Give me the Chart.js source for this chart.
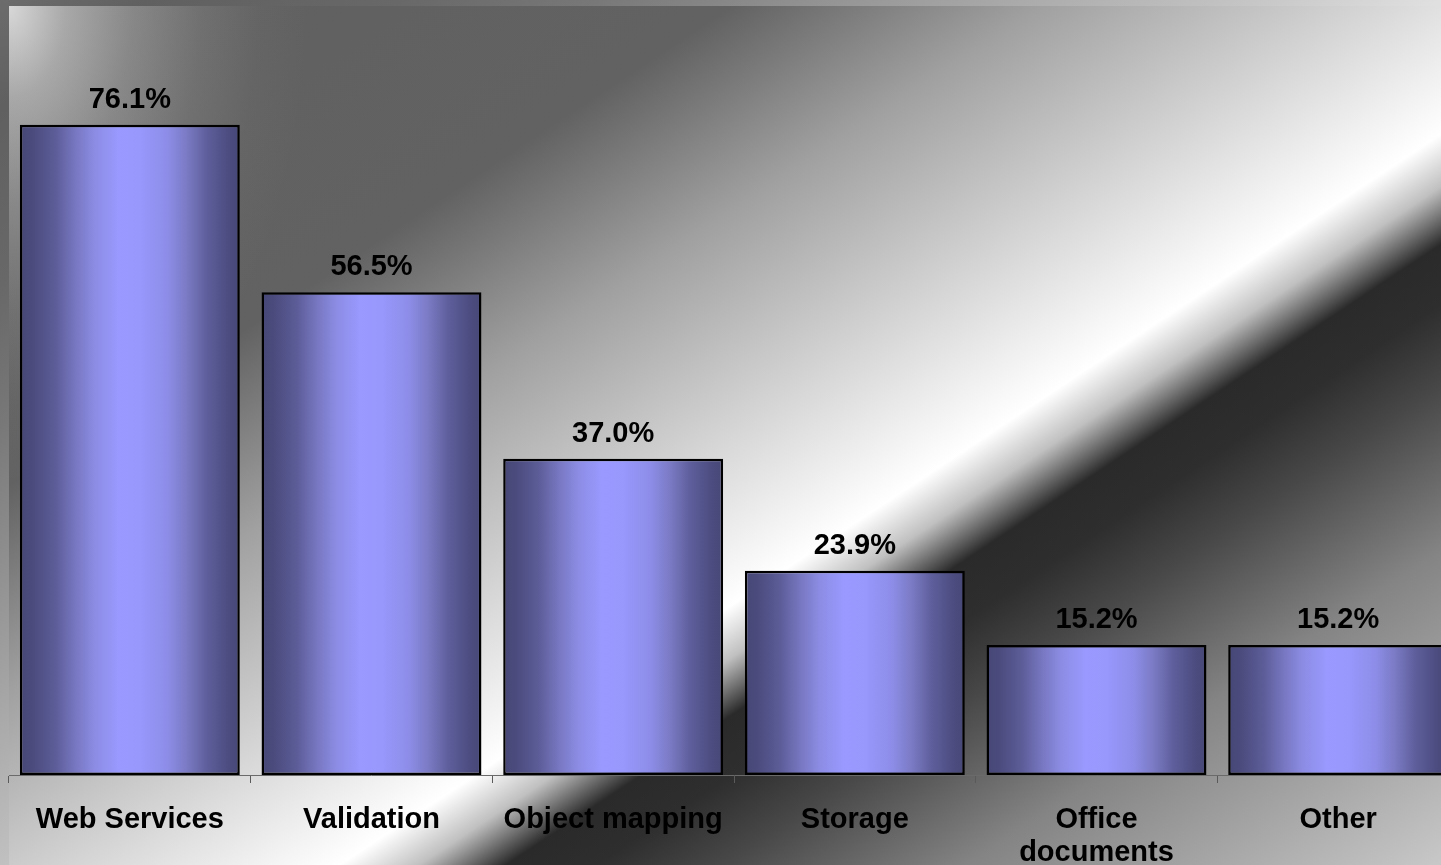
<!DOCTYPE html>
<html>
<head>
<meta charset="utf-8">
<title>Usage</title>
<script src="https://cdn.jsdelivr.net/npm/chart.js@4.4.1/dist/chart.umd.min.js"></script>
<style>
    html, body { margin: 0; padding: 0; overflow: hidden; background: #666666; }
    canvas { display: block; }
</style>
</head>
<body>
<canvas id="usage-chart" width="1500" height="900"></canvas>
<script>
var categories = ['Web Services', 'Validation', 'Object mapping', 'Storage', ['Office', 'documents'], 'Other'];
var percentages = [76.1, 56.5, 37.0, 23.9, 15.2, 15.2];
var axisMin = 0;
var axisMax = 90;

var usage = {};

usage.fontFamily = '"Liberation Sans", Arial, Helvetica, sans-serif';

// horizontal "cylinder" shading of each bar
usage.barFill = function (context) {
    const chart = context.chart;
    const x = chart.scales.x;
    if (!x || !chart.chartArea) {
        return '#9999ff';
    }
    const step = x.getPixelForValue(1) - x.getPixelForValue(0);
    const center = x.getPixelForValue(context.dataIndex);
    const half = step * 0.91 / 2;
    const g = chart.ctx.createLinearGradient(center - half, 0, center + half, 0);
    g.addColorStop(0, '#474776');
    g.addColorStop(0.05, '#4a4a7c');
    g.addColorStop(0.16, '#5c5c98');
    g.addColorStop(0.25, '#7676c0');
    g.addColorStop(0.34, '#8c8ce4');
    g.addColorStop(0.45, '#9999ff');
    g.addColorStop(0.55, '#9797fc');
    g.addColorStop(0.67, '#8d8de8');
    g.addColorStop(0.76, '#7a7ac4');
    g.addColorStop(0.85, '#5e5e9c');
    g.addColorStop(0.95, '#4c4c80');
    g.addColorStop(1, '#474776');
    return g;
};

// metallic backdrop: page behind, plot panel on top
usage.backdrop = {
    id: 'backdrop',
    beforeDraw: function (chart) {
        const ctx = chart.ctx;
        const area = chart.chartArea;
        const w = chart.width;
        const h = chart.height;

        ctx.save();
        const outer = ctx.createLinearGradient(0, 0, 695, 973);
        outer.addColorStop(0, '#6c6c6c');
        outer.addColorStop(0.073, '#606060');
        outer.addColorStop(0.194, '#686868');
        outer.addColorStop(0.29, '#787878');
        outer.addColorStop(0.486, '#a8a8a8');
        outer.addColorStop(0.589, '#c0c0c0');
        outer.addColorStop(0.7, '#e0e0e0');
        outer.addColorStop(1, '#f4f4f4');
        ctx.fillStyle = outer;
        ctx.fillRect(0, 0, w, h);

        const len = 1508;
        const inner = ctx.createLinearGradient(area.left, area.top,
            area.left + 0.553 * len, area.top + 0.833 * len);
        inner.addColorStop(0, '#606060');
        inner.addColorStop(0.265, '#626262');
        inner.addColorStop(0.378, '#a0a0a0');
        inner.addColorStop(0.525, '#e0e0e0');
        inner.addColorStop(0.596, '#ffffff');
        inner.addColorStop(0.625, '#c0c0c0');
        inner.addColorStop(0.657, '#2a2a2a');
        inner.addColorStop(0.69, '#2e2e2e');
        inner.addColorStop(0.736, '#484848');
        inner.addColorStop(0.826, '#848484');
        inner.addColorStop(1, '#c8c8c8');
        ctx.fillStyle = inner;
        ctx.fillRect(area.left, area.top, w - area.left, h - area.top);

        // light sheen in the top-left corner of the panel
        ctx.beginPath();
        ctx.rect(area.left, area.top, w - area.left, h - area.top);
        ctx.clip();
        ctx.translate(area.left, area.top);
        ctx.scale(1, 1.6);
        const sheen = ctx.createRadialGradient(0, 0, 0, 0, 0, 300);
        sheen.addColorStop(0, 'rgba(216,216,216,1)');
        sheen.addColorStop(0.19, 'rgba(216,216,216,0.6)');
        sheen.addColorStop(0.41, 'rgba(216,216,216,0.33)');
        sheen.addColorStop(0.64, 'rgba(216,216,216,0.13)');
        sheen.addColorStop(0.83, 'rgba(216,216,216,0.03)');
        sheen.addColorStop(1, 'rgba(216,216,216,0)');
        ctx.fillStyle = sheen;
        ctx.fillRect(0, 0, 300, 300);
        ctx.restore();
    }
};

// percentage above each bar
usage.valueLabels = {
    id: 'valueLabels',
    afterDatasetsDraw: function (chart) {
        const ctx = chart.ctx;
        const meta = chart.getDatasetMeta(0);
        ctx.save();
        ctx.font = 'bold 29px ' + usage.fontFamily;
        ctx.fillStyle = '#000000';
        ctx.textAlign = 'center';
        ctx.textBaseline = 'alphabetic';
        meta.data.forEach(function (bar, i) {
            ctx.fillText(percentages[i].toFixed(1) + '%', bar.x, bar.y - 17);
        });
        ctx.restore();
    }
};

usage.init = function () {
    const ctx = document.getElementById('usage-chart');

    const config = {
        type: 'bar',
        data: {
            labels: categories,
            datasets: [
                {
                    label: 'Usage',
                    data: percentages,
                    backgroundColor: usage.barFill,
                    borderColor: '#000000',
                    borderWidth: 2.5,
                    borderSkipped: false,
                    categoryPercentage: 1,
                    barPercentage: 0.91,
                }
            ]
        },
        options: {
            responsive: false,
            animation: false,
            devicePixelRatio: 1,
            layout: {
                padding: { left: 9, top: 6, right: 41, bottom: 0 }
            },
            plugins: {
                legend: { display: false },
                title: { display: false },
                tooltip: { enabled: false }
            },
            scales: {
                x: {
                    offset: true,
                    grid: {
                        offset: true,
                        drawOnChartArea: false,
                        tickLength: 8,
                        color: '#5a5a5a',
                        lineWidth: 1
                    },
                    border: { display: true, color: '#6a6a6a', width: 1 },
                    ticks: {
                        color: '#000000',
                        padding: 20,
                        maxRotation: 0,
                        autoSkip: false,
                        font: { family: usage.fontFamily, size: 29, weight: 'bold', lineHeight: 1.15 }
                    },
                    afterFit: function (scale) {
                        scale.height = 125;
                    }
                },
                y: {
                    display: false,
                    min: axisMin,
                    max: axisMax
                }
            }
        },
        plugins: [usage.backdrop, usage.valueLabels]
    };

    usage.chart = new Chart(ctx, config);
};

usage.init();
</script>
</body>
</html>
